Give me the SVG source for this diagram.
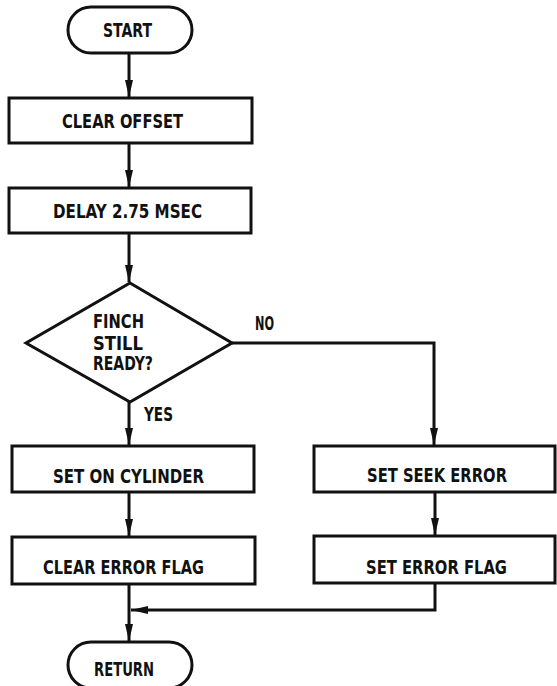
<svg xmlns="http://www.w3.org/2000/svg" width="557" height="686" viewBox="0 0 557 686">
<style>
.s{fill:#fff;stroke:#111;stroke-width:3}
.c{fill:none;stroke:#111;stroke-width:3}
text{font-family:"DejaVu Sans Condensed","DejaVu Sans",sans-serif;font-weight:bold;font-size:19px;fill:#111}
</style>
<defs>
<marker id="ah" markerUnits="userSpaceOnUse" markerWidth="18" markerHeight="10" refX="17" refY="5" orient="auto">
<path d="M0,1 L17,5 L0,9 Z" fill="#111"/>
</marker>
</defs>
<rect width="557" height="686" fill="#fff"/>
<g id="connectors">
<line class="c" x1="129" y1="53" x2="129" y2="97" marker-end="url(#ah)"/>
<line class="c" x1="129" y1="143" x2="129" y2="187" marker-end="url(#ah)"/>
<line class="c" x1="129" y1="233" x2="129" y2="282" marker-end="url(#ah)"/>
<line class="c" x1="129" y1="402" x2="129" y2="445" marker-end="url(#ah)"/>
<line class="c" x1="129" y1="492" x2="129" y2="536" marker-end="url(#ah)"/>
<line class="c" x1="129" y1="584" x2="129" y2="641" marker-end="url(#ah)"/>
<polyline class="c" points="232,343 434,343 434,445" marker-end="url(#ah)"/>
<line class="c" x1="435" y1="492" x2="435" y2="535" marker-end="url(#ah)"/>
<polyline class="c" points="435,583 435,610 131,610" marker-end="url(#ah)"/>
<text x="255" y="330" textLength="19" lengthAdjust="spacingAndGlyphs">NO</text>
<text x="144" y="421" textLength="29" lengthAdjust="spacingAndGlyphs">YES</text>
</g>
<g id="start">
<rect class="s" x="68" y="7" width="124" height="46" rx="23"/>
<text x="103" y="37" textLength="49" lengthAdjust="spacingAndGlyphs">START</text>
</g>
<g id="clear-offset">
<rect class="s" x="9" y="98" width="243" height="45"/>
<text x="62" y="128" textLength="121" lengthAdjust="spacingAndGlyphs">CLEAR OFFSET</text>
</g>
<g id="delay">
<rect class="s" x="9" y="188" width="242" height="45"/>
<text x="53" y="218" textLength="149" lengthAdjust="spacingAndGlyphs">DELAY 2.75 MSEC</text>
</g>
<g id="decision">
<polygon class="s" points="130,283 232,343 130,402 26,343"/>
<text x="93" y="328" textLength="51" lengthAdjust="spacingAndGlyphs">FINCH</text>
<text x="93" y="350" textLength="50" lengthAdjust="spacingAndGlyphs">STILL</text>
<text x="93" y="370" textLength="60" lengthAdjust="spacingAndGlyphs">READY?</text>
</g>
<g id="set-on-cylinder">
<rect class="s" x="12" y="446" width="242" height="46"/>
<text x="53" y="483" textLength="151" lengthAdjust="spacingAndGlyphs">SET ON CYLINDER</text>
</g>
<g id="clear-error-flag">
<rect class="s" x="12" y="537" width="243" height="47"/>
<text x="43" y="574" textLength="161" lengthAdjust="spacingAndGlyphs">CLEAR ERROR FLAG</text>
</g>
<g id="set-seek-error">
<rect class="s" x="314" y="446" width="241" height="46"/>
<text x="367" y="482" textLength="140" lengthAdjust="spacingAndGlyphs">SET SEEK ERROR</text>
</g>
<g id="set-error-flag">
<rect class="s" x="314" y="536" width="241" height="47"/>
<text x="366" y="574" textLength="141" lengthAdjust="spacingAndGlyphs">SET ERROR FLAG</text>
</g>
<g id="return">
<rect class="s" x="68" y="642" width="124" height="46" rx="23"/>
<text x="94" y="676" textLength="60" lengthAdjust="spacingAndGlyphs">RETURN</text>
</g>
</svg>
